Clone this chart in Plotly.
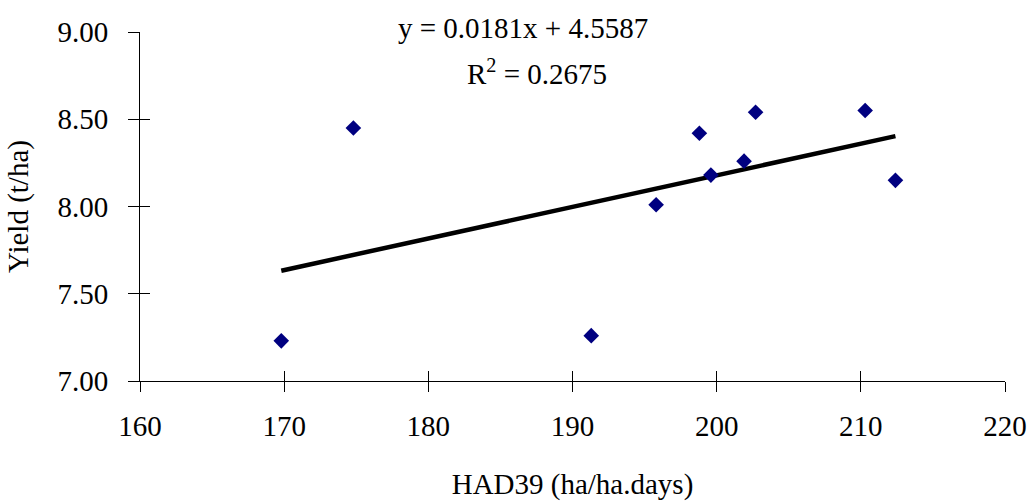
import plotly.graph_objects as go

# Observed HAD39 vs yield
had39 = [169.8, 174.8, 191.3, 195.8, 198.8, 199.6, 201.9, 202.7, 210.3, 212.4]
yield_tha = [7.23, 8.45, 7.26, 8.01, 8.42, 8.18, 8.26, 8.54, 8.55, 8.15]

# Linear trendline coefficients
slope = 0.0181
intercept = 4.5587
r_squared = 0.2675

x_ticks = [160, 170, 180, 190, 200, 210, 220]
y_ticks = [7.0, 7.5, 8.0, 8.5, 9.0]

FONT = "Liberation Serif"
FS = 29

trend_x = [min(had39), max(had39)]
trend_y = [slope * v + intercept for v in trend_x]

fig = go.Figure()
fig.add_trace(go.Scatter(
    x=trend_x, y=trend_y, mode="lines",
    line=dict(color="black", width=4.5),
    showlegend=False, hoverinfo="skip",
))
fig.add_trace(go.Scatter(
    x=had39, y=yield_tha, mode="markers",
    marker=dict(symbol="diamond", size=12, color="#000080",
                line=dict(width=0)),
    showlegend=False,
))
# helper traces so the inside-tick overlay axes are drawn
fig.add_trace(go.Scatter(x=[None], y=[None], xaxis="x2", yaxis="y",
                         showlegend=False, hoverinfo="skip"))
fig.add_trace(go.Scatter(x=[None], y=[None], xaxis="x", yaxis="y2",
                         showlegend=False, hoverinfo="skip"))

common_font = dict(family=FONT, size=FS, color="black")

fig.update_layout(
    width=1029, height=501,
    margin=dict(l=140, r=24, t=32, b=120, autoexpand=False),
    paper_bgcolor="white", plot_bgcolor="white",
    font=common_font,
    xaxis=dict(
        range=[160, 220], tickvals=x_ticks,
        ticktext=[str(v) for v in x_ticks],
        showgrid=False, zeroline=False, automargin=False,
        showline=True, linecolor="black", linewidth=1,
        ticks="outside", ticklen=10, tickwidth=1, tickcolor="black",
        ticklabelstandoff=9,
        tickfont=common_font,
        title=dict(text="HAD39 (ha/ha.days)", font=common_font, standoff=45),
    ),
    xaxis2=dict(
        range=[160, 220], tickvals=x_ticks, overlaying="x", anchor="y",
        side="bottom", showgrid=False, zeroline=False, showline=False,
        ticks="inside", ticklen=10, tickwidth=1, tickcolor="black",
        showticklabels=False, automargin=False,
    ),
    yaxis=dict(
        range=[7, 9], tickvals=y_ticks,
        ticktext=[f"{v:.2f}" for v in y_ticks],
        showgrid=False, zeroline=False, automargin=False,
        showline=True, linecolor="black", linewidth=1,
        ticks="outside", ticklen=11, tickwidth=1, tickcolor="black",
        ticklabelstandoff=14,
        tickfont=common_font,
        title=dict(text="Yield (t/ha)", font=common_font, standoff=20),
    ),
    yaxis2=dict(
        range=[7, 9], tickvals=y_ticks, overlaying="y", anchor="x",
        side="left", showgrid=False, zeroline=False, showline=False,
        ticks="inside", ticklen=10, tickwidth=1, tickcolor="black",
        showticklabels=False, automargin=False,
    ),
    annotations=[
        dict(text=f"y = {slope}x + {intercept}", xref="paper", yref="paper",
             x=(523 - 140) / 865, y=(381 - 28) / 349, showarrow=False,
             xanchor="center", yanchor="middle", font=common_font),
        dict(text=f"R<sup>2</sup> = {r_squared}", xref="paper", yref="paper",
             x=(537 - 140) / 865, y=(381 - 72) / 349, showarrow=False,
             xanchor="center", yanchor="middle", font=common_font),
    ],
)

fig.write_html("out.html")
